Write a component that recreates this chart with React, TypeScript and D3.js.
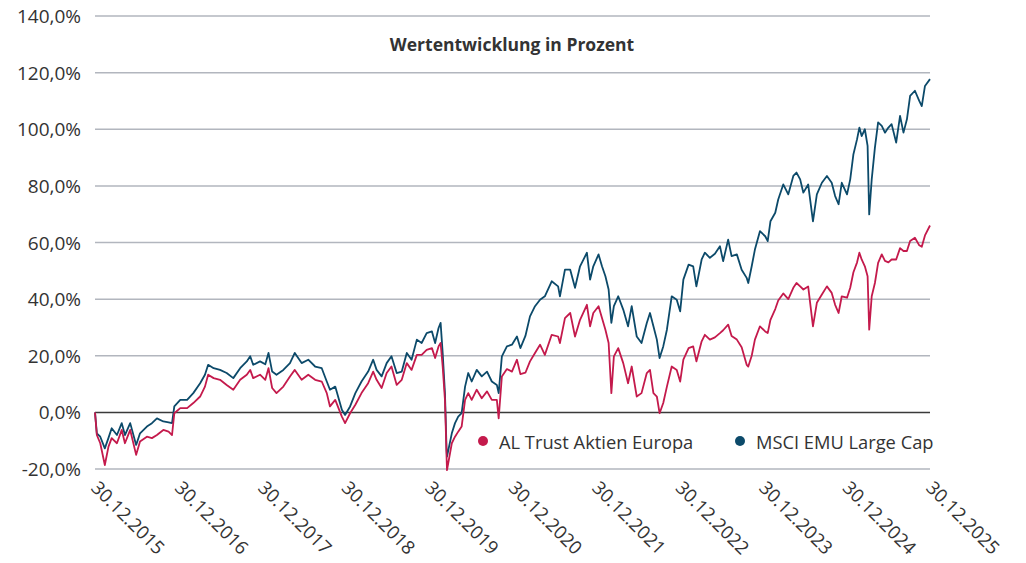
import * as d3 from "d3";

// Values (percent change since 30.12.2015)
const DATES = [
  "2015-12-30", "2016-01-07", "2016-01-22", "2016-02-11", "2016-02-27", "2016-03-12", "2016-04-04", "2016-04-25",
  "2016-05-09", "2016-06-01", "2016-06-27", "2016-07-14", "2016-08-13", "2016-09-04", "2016-09-26", "2016-10-24",
  "2016-11-16", "2016-12-01", "2016-12-11", "2017-01-06", "2017-02-05", "2017-03-04", "2017-04-03", "2017-04-24",
  "2017-05-08", "2017-06-01", "2017-06-29", "2017-07-28", "2017-08-26", "2017-09-25", "2017-10-24", "2017-11-08",
  "2017-11-21", "2017-12-21", "2018-01-13", "2018-01-27", "2018-02-12", "2018-03-03", "2018-04-02", "2018-05-01",
  "2018-05-22", "2018-06-21", "2018-07-20", "2018-08-19", "2018-09-17", "2018-10-09", "2018-10-23", "2018-11-15",
  "2018-12-14", "2018-12-28", "2019-01-19", "2019-02-11", "2019-03-10", "2019-04-08", "2019-04-30", "2019-05-15",
  "2019-06-06", "2019-06-28", "2019-07-19", "2019-08-11", "2019-09-02", "2019-09-24", "2019-10-15", "2019-11-07",
  "2019-11-28", "2019-12-20", "2020-01-12", "2020-01-26", "2020-02-10", "2020-02-19", "2020-02-28", "2020-03-09",
  "2020-03-12", "2020-03-16", "2020-03-18", "2020-04-08", "2020-04-22", "2020-05-06", "2020-05-21", "2020-06-05",
  "2020-06-19", "2020-07-04", "2020-07-26", "2020-08-17", "2020-09-09", "2020-09-30", "2020-10-22", "2020-10-30",
  "2020-11-13", "2020-12-05", "2020-12-27", "2021-01-18", "2021-02-02", "2021-02-24", "2021-03-16", "2021-04-07",
  "2021-04-29", "2021-05-20", "2021-06-19", "2021-07-17", "2021-07-25", "2021-08-16", "2021-09-08", "2021-09-29",
  "2021-10-21", "2021-11-20", "2021-12-04", "2021-12-18", "2022-01-10", "2022-01-25", "2022-02-09", "2022-02-23",
  "2022-03-07", "2022-03-18", "2022-04-06", "2022-04-28", "2022-05-19", "2022-06-04", "2022-06-26", "2022-07-17",
  "2022-08-09", "2022-08-23", "2022-09-07", "2022-09-22", "2022-10-04", "2022-10-20", "2022-11-05", "2022-11-26",
  "2022-12-18", "2023-01-02", "2023-01-16", "2023-02-08", "2023-02-28", "2023-03-14", "2023-04-06", "2023-04-20",
  "2023-05-12", "2023-06-03", "2023-06-25", "2023-07-09", "2023-07-31", "2023-08-15", "2023-09-07", "2023-09-28",
  "2023-10-20", "2023-10-27", "2023-11-11", "2023-11-25", "2023-12-17", "2024-01-09", "2024-01-20", "2024-02-01",
  "2024-02-22", "2024-03-06", "2024-03-28", "2024-04-19", "2024-05-11", "2024-05-25", "2024-06-10", "2024-06-24",
  "2024-07-15", "2024-08-05", "2024-08-22", "2024-09-13", "2024-10-05", "2024-10-26", "2024-11-10", "2024-11-25",
  "2024-12-09", "2025-01-01", "2025-01-15", "2025-01-29", "2025-02-14", "2025-02-24", "2025-03-06", "2025-03-20",
  "2025-04-01", "2025-04-08", "2025-04-19", "2025-05-03", "2025-05-17", "2025-06-02", "2025-06-16", "2025-07-01",
  "2025-07-15", "2025-08-04", "2025-08-21", "2025-09-05", "2025-09-20", "2025-10-04", "2025-10-25", "2025-11-13",
  "2025-11-24", "2025-12-08", "2025-12-30",
];

const MSCI_EMU = [
  0, -7.4, -8.6, -12.7, -9, -5.6, -8, -3.8,
  -8, -3.8, -11.5, -7.4, -5, -3.8, -2.1, -3.2,
  -3.5, -3.8, 2.1, 4.4, 4.4, 6.8, 10.3, 13.3,
  16.8, 15.6, 15, 13.9, 12.1, 15.6, 18, 19.8,
  16.8, 18, 17, 21, 14.4, 13.3, 15, 17.4,
  21, 17.4, 18.6, 16.2, 15.6, 10.9, 8, 9.1,
  0.9, -0.9, 2.1, 6.8, 10.9, 14.4, 18.6, 15,
  12.7, 17.4, 19.8, 13.9, 14.4, 21, 18.6, 25.7,
  24.5, 28, 28.6, 24.5, 29.8, 31.6, 21, 6.8,
  -1.5, -13.3, -15.6, -7.4, -3.8, -1.5, -0.3, 9.1,
  13.9, 10.9, 15, 12.7, 14.4, 10.9, 9.7, 6.8,
  19.8, 23.3, 23.9, 26.8, 22.7, 27, 33.9, 37.5,
  39.8, 41, 46.3, 44.5, 41, 50.4, 50.4, 44,
  51.6, 56.4, 46.9, 51.6, 55.8, 51.6, 48.1, 43.4,
  31.6, 37.5, 41, 36.3, 30.4, 37.5, 26.8, 24.5,
  31.6, 35.1, 30.4, 25.7, 19.2, 23.3, 29.2, 41,
  39.8, 35.7, 46.9, 52.2, 51.6, 44.5, 54, 56.4,
  54.6, 56, 58.7, 53.4, 61, 55.2, 55.8, 50.4,
  47.5, 45.7, 51.6, 57.5, 64, 62.2, 60.5, 67.5,
  70.5, 75.2, 80.5, 77, 83.5, 84.7, 82.3, 77.6,
  80.5, 67.5, 77, 81.1, 83.5, 81.1, 76.4, 73.5,
  81.1, 77, 82.3, 91.2, 96.5, 100.6, 97.6, 100,
  94.1, 69.9, 82.3, 93.5, 102.4, 101.2, 98.8, 100.6,
  101.8, 95.3, 104.7, 98.8, 103.5, 111.8, 113.6, 110,
  108.2, 115.3, 117.7,
];

const AL_TRUST = [
  0, -8, -10.9, -18.6, -12.1, -9.1, -10.9, -6.2,
  -10.9, -6.2, -15, -10.3, -8.6, -9.1, -8, -6.2,
  -6.8, -8, -0.3, 1.5, 1.5, 3.3, 5.6, 9.1,
  13.3, 12.1, 11.5, 9.7, 8, 11.5, 13.3, 15,
  12.1, 13.3, 11.5, 15.6, 8.6, 6.8, 9.1, 12.7,
  15, 11.5, 13.3, 11.5, 10.9, 6.8, 2.1, 4.4,
  -1.5, -3.8, -0.3, 2.7, 6.8, 10.3, 14.4, 11.5,
  8.6, 13.9, 16.2, 9.7, 11.5, 17.4, 15, 20.3,
  20.3, 22.1, 22.7, 19.2, 23.3, 24.5, 16.2, 4.4,
  -3.8, -15.6, -20.4, -10.9, -8.6, -6.8, -5, 4.4,
  6.8, 4.4, 8, 5, 7.4, 4.4, 4.4, -2.1,
  12.7, 15.3, 14.4, 18.6, 13.5, 14, 18, 21,
  23.9, 20.3, 27.4, 26.8, 24.5, 33.3, 35.1, 26.8,
  32.7, 38, 30.4, 35.1, 37.5, 33.3, 29.2, 24.5,
  6.8, 19.8, 22.7, 17.4, 10.3, 16.2, 5.6, 6.8,
  13.9, 15, 6.8, 5.6, -0.3, 3.3, 9.1, 16.2,
  15, 10.9, 18.6, 22.7, 23.3, 18, 25.1, 27.4,
  25.7, 26.5, 28, 29, 31, 27, 25.7, 23,
  16.8, 16.2, 20, 25.7, 30.4, 28.6, 28, 32.7,
  36.5, 39.5, 42, 40, 44, 45.7, 44.5, 43.4,
  44.5, 30.4, 38.7, 41.6, 44.5, 42.2, 38, 35.1,
  41, 40.5, 44, 49.5, 53, 56.4, 54, 51.6,
  48.1, 29.2, 41, 45.7, 52.8, 55.8, 53.5, 53,
  54, 54, 58, 57, 57, 60.5, 61.7, 59,
  58.5, 62.5, 66,
];

const SERIES = [
  { name: "AL Trust Aktien Europa", values: AL_TRUST, color: "#c41a4c" },
  { name: "MSCI EMU Large Cap", values: MSCI_EMU, color: "#0c4a6a" },
];

const Y_TICKS = [-20, 0, 20, 40, 60, 80, 100, 120, 140];
const X_TICKS = [
  "2015-12-30", "2016-12-30", "2017-12-30", "2018-12-30", "2019-12-30", "2020-12-30",
  "2021-12-30", "2022-12-30", "2023-12-30", "2024-12-30", "2025-12-30",
];

const W = 1026;
const H = 563;
const FONT = "'Open Sans', 'Noto Sans', sans-serif";
const TEXT = "#333333";

export default function App() {
  const parse = d3.timeParse("%Y-%m-%d");
  const dates = DATES.map((d) => parse(d) as Date);

  const x = d3
    .scaleTime()
    .domain([parse(X_TICKS[0]) as Date, parse(X_TICKS[X_TICKS.length - 1]) as Date])
    .range([95, 930]);
  const y = d3.scaleLinear().domain([-20, 140]).range([469, 16]);

  const fmtPct = (v: number) => v.toFixed(1).replace(".", ",") + "%";
  const fmtDate = d3.timeFormat("%d.%m.%Y");

  const line = d3
    .line<number>()
    .x((_, i) => x(dates[i]))
    .y((v) => y(v));

  return (
    <svg
      width={W}
      height={H}
      style={{ position: "absolute", left: 0, top: 0, background: "#fff" }}
      fontFamily={FONT}
    >
      {/* grid */}
      {Y_TICKS.map((t) => (
        <g key={t}>
          <line
            x1={95}
            x2={930}
            y1={y(t)}
            y2={y(t)}
            stroke={t === 0 ? "#3a3a3a" : "#b2b6be"}
            strokeWidth={1.5}
          />
          <text
            x={81}
            y={y(t)}
            textAnchor="end"
            dominantBaseline="central"
            fontSize={19}
            fill={TEXT}
          >
            {fmtPct(t)}
          </text>
        </g>
      ))}

      {/* x labels */}
      {X_TICKS.map((t) => {
        const px = x(parse(t) as Date) - 5;
        const py = 489;
        return (
          <text
            key={t}
            x={px}
            y={py}
            transform={`rotate(45, ${px}, ${py})`}
            fontSize={18.5}
            fill={TEXT}
          >
            {fmtDate(parse(t) as Date)}
          </text>
        );
      })}

      {/* title */}
      <text x={512} y={44} textAnchor="middle" dominantBaseline="central" fontSize={17.5} fontWeight="bold" fill={TEXT}>
        Wertentwicklung in Prozent
      </text>

      {/* lines, MSCI drawn first so the red sits on top */}
      {[...SERIES].reverse().map((s) => (
        <path
          key={s.name}
          d={line(s.values) ?? ""}
          fill="none"
          stroke={s.color}
          strokeWidth={1.8}
          strokeLinejoin="round"
        />
      ))}

      {/* legend */}
      {SERIES.map((s, i) => {
        const lx = i === 0 ? 483 : 740;
        return (
          <g key={s.name}>
            <circle cx={lx} cy={441} r={5} fill={s.color} />
            <text x={lx + 16} y={441} dominantBaseline="central" fontSize={18.3} fill={TEXT}>
              {s.name}
            </text>
          </g>
        );
      })}
    </svg>
  );
}
